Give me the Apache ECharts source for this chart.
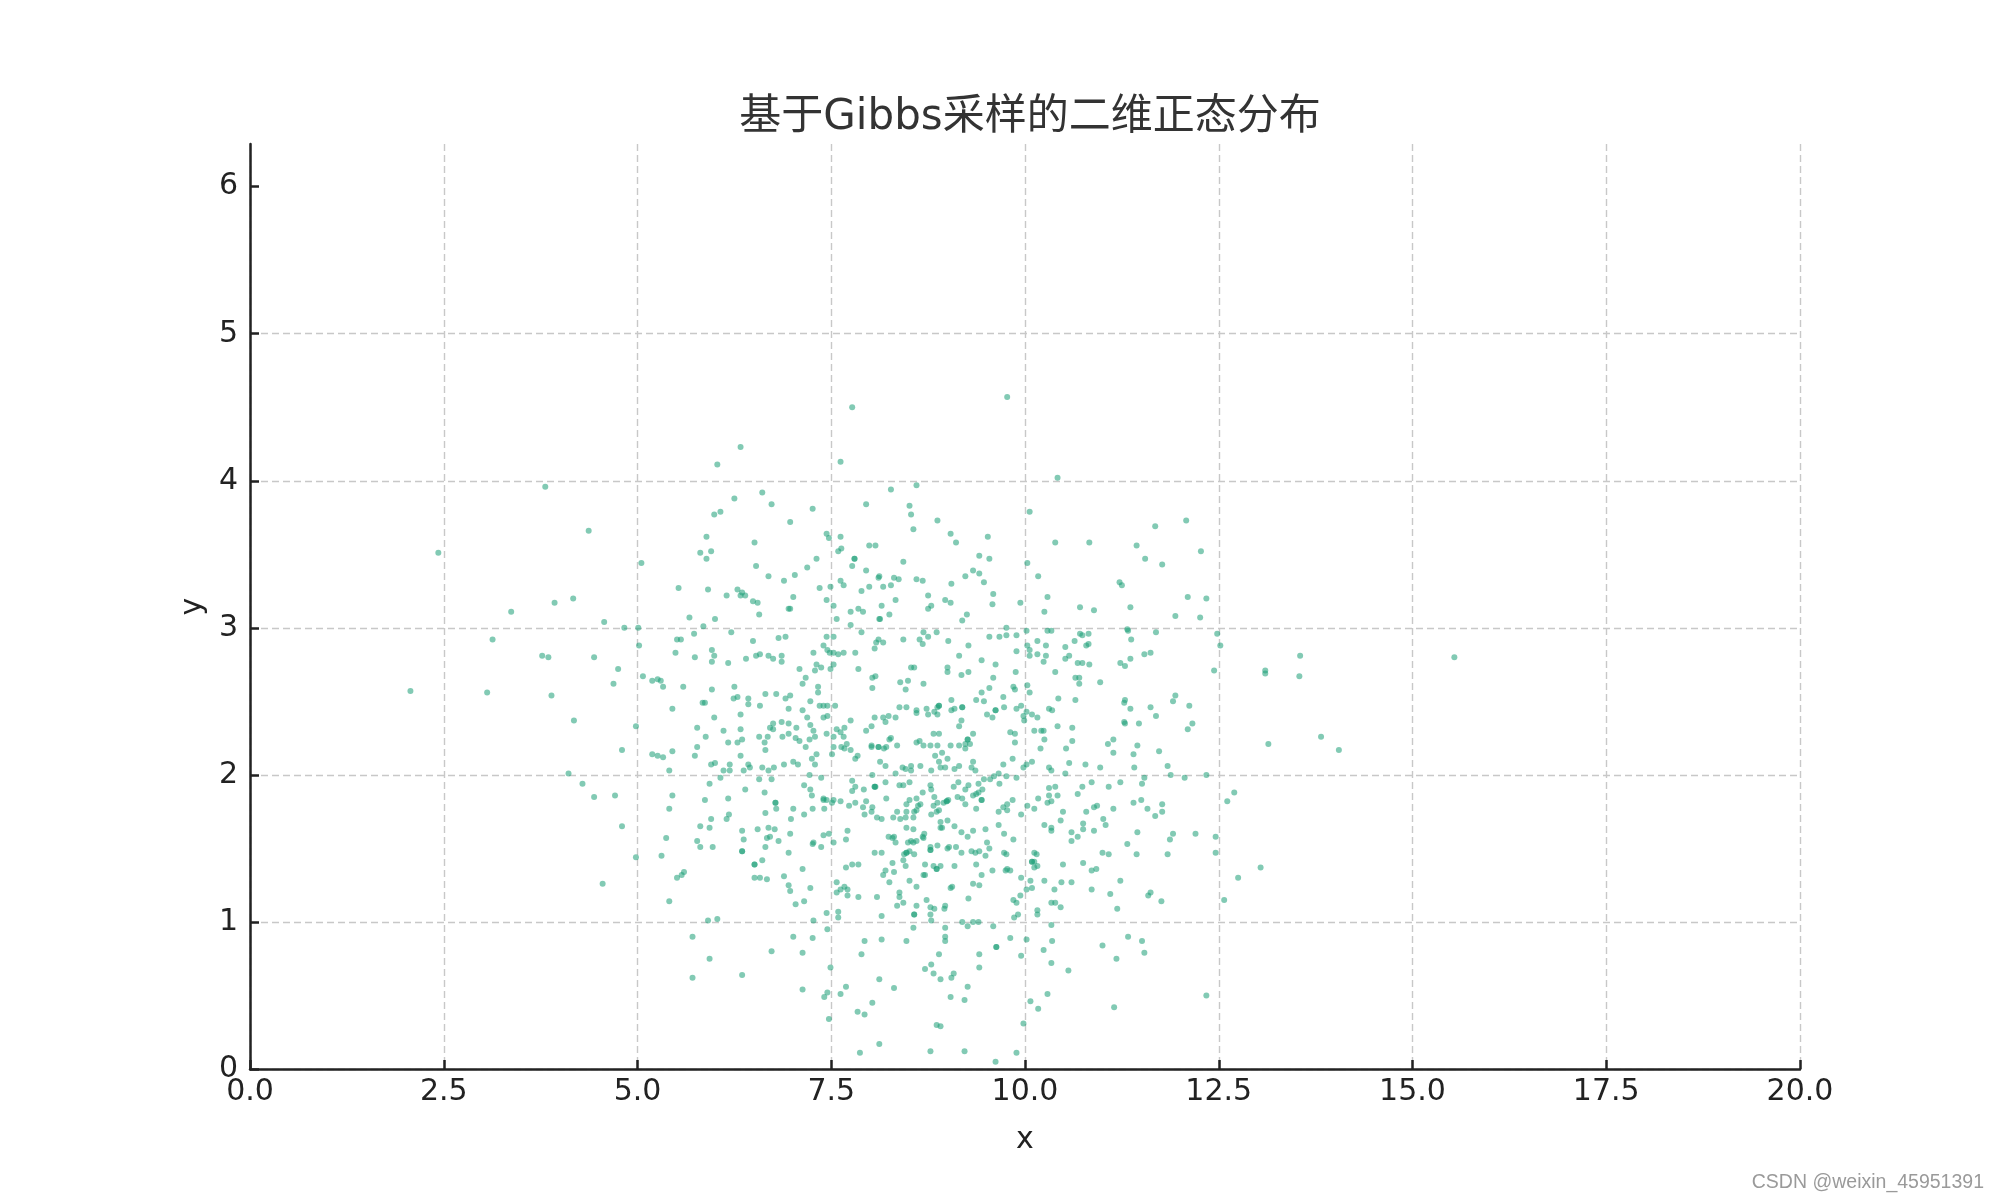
<!DOCTYPE html>
<html>
<head>
<meta charset="utf-8">
<script src="https://cdn.jsdelivr.net/npm/echarts@6/dist/echarts.min.js"></script>
<style>html,body{margin:0;padding:0;background:#fff}#chart{width:2000px;height:1200px}</style>
</head>
<body>
<div id="chart"></div>
<script>
// ---- chart text ----
const titleText = '基于Gibbs采样的二维正态分布';
const xName = 'x';
const yName = 'y';
const watermark = 'CSDN @weixin_45951391';

// ---- axis ticks ----
const xTickValues = [0, 2.5, 5, 7.5, 10, 12.5, 15, 17.5, 20];
const yTickValues = [0, 1, 2, 3, 4, 5, 6];
const yMax = 6.29;

// ---- samples (x, y) ----
const samplesUpperLeft = [
[7.77,4.50],[7.62,4.13],[6.33,4.23],[6.03,4.11],[3.81,3.96],[4.37,3.66],[2.43,3.51],[6.61,3.92],[6.73,3.84],[6.25,3.88],[5.99,3.77],[6.07,3.79],[7.26,3.81],[6.97,3.72],[7.95,3.84],[5.89,3.62],[5.81,3.51],[5.95,3.52],[5.89,3.47],[6.51,3.58],[7.44,3.64],[7.47,3.61],[7.62,3.62],[7.63,3.54],[7.59,3.52],[7.80,3.47],[7.80,3.47],[7.99,3.56],[8.07,3.56],[6.53,3.42],[7.31,3.47],[7.77,3.42],[7.95,3.39],[7.19,3.41],[6.69,3.35],[6.89,3.32],[7.03,3.36],[7.62,3.32],[7.66,3.29],[7.49,3.28],[7.99,3.28],[7.89,3.25],[8.12,3.35],[7.35,3.27],[5.05,3.44],[5.53,3.27],[5.91,3.26],[6.29,3.26],[6.35,3.24],[6.33,3.22],[6.39,3.22],[6.15,3.22],[6.49,3.18],[6.55,3.17],[7.01,3.21],[6.95,3.13],[6.97,3.13],[6.57,3.09],[7.44,3.19],[7.53,3.15],[7.75,3.11],[7.85,3.13],[7.91,3.11],[7.57,3.06],[7.75,3.02],[8.12,3.06],[6.00,3.06],[5.67,3.07],[5.85,3.01],[6.21,2.97],[7.89,2.97],[4.57,3.04],[4.83,3.00],[5.01,3.00],[3.37,3.11],[3.93,3.17],[4.17,3.20],[3.13,2.92],[3.77,2.81],[3.85,2.80],[4.44,2.80],[2.07,2.57],[3.06,2.56],[3.89,2.54],[4.18,2.37],[4.69,2.62],[4.75,2.72],[5.02,2.88],[5.07,2.67],[5.19,2.64],[5.26,2.65],[5.30,2.64],[5.33,2.60],[4.98,2.33],[4.80,2.17],[4.11,2.01],[4.29,1.94],[4.44,1.85],[4.71,1.86],[5.45,2.45],[5.49,2.83],[5.51,2.92],[5.56,2.92],[5.73,2.96],[5.74,2.80],[5.96,2.85],[5.99,2.81],[5.96,2.77],[6.17,2.76],[6.49,2.91],[6.53,2.81],[6.58,2.82],[6.40,2.79],[6.82,2.93],[6.91,2.94],[6.69,2.81],[6.75,2.79],[6.86,2.81],[6.86,2.77],[7.09,2.72],[7.27,2.83],[7.44,2.94],[7.53,2.94],[7.40,2.88],[7.45,2.85],[7.48,2.83],[7.53,2.83],[7.59,2.82],[7.66,2.83],[7.81,2.83],[8.06,2.86],[8.08,2.90],[8.11,2.92],[7.31,2.75],[7.37,2.73],[7.29,2.71],[7.53,2.75],[7.49,2.72],[7.85,2.72],[8.03,2.66],[8.07,2.67],[7.17,2.66],[7.13,2.62],[7.33,2.60],[7.33,2.56],[7.23,2.50],[6.25,2.60],[6.24,2.52],[6.29,2.53],[6.43,2.52],[6.43,2.48],[6.65,2.55],[6.79,2.55],[6.91,2.52],[6.97,2.54],[6.58,2.47],[6.95,2.45],[6.33,2.41],[5.99,2.39],[5.84,2.49],[5.87,2.49],[5.96,2.58],[5.59,2.60],[5.77,2.32],[5.88,2.26],[5.77,2.19],[5.74,2.13],[5.45,2.16],[5.41,2.03],[5.19,2.14],[5.26,2.13],[5.33,2.12],[5.45,1.86],[5.93,1.94],[6.11,2.30],[6.17,2.22],[6.29,2.22],[6.35,2.24],[6.33,2.31],[6.33,2.13],[5.95,2.07],[6.00,2.08],[6.11,2.03],[6.19,2.03],[6.19,2.07],[6.07,1.98],[6.37,2.03],[6.43,2.07],[6.45,2.05],[6.39,1.90],[6.57,1.97],[6.61,2.05],[6.69,2.03],[6.73,1.97],[6.76,2.05],[6.68,2.26],[6.64,2.22],[6.57,2.26],[6.65,2.17],[6.71,2.32],[6.75,2.35],[6.75,2.31],[6.86,2.36],[6.95,2.35],[7.05,2.32],[6.87,2.26],[6.95,2.28],[7.04,2.25],[7.09,2.23],[7.17,2.19],[7.22,2.24],[7.29,2.26],[7.27,2.30],[7.23,2.34],[7.19,2.39],[7.13,2.44],[6.89,2.07],[7.01,2.09],[7.07,2.07],[7.31,2.14],[7.29,2.07],[7.25,2.11],[7.22,2.00],[7.37,1.98],[7.15,1.93],[7.23,1.90],[7.25,1.86],[7.40,1.84],[7.44,2.28],[7.45,2.40],[7.40,2.39],[7.35,2.47],[7.40,2.47],[7.45,2.47],[7.55,2.47],[7.53,2.26],[7.53,2.19],[7.51,2.14],[7.57,2.31],[7.62,2.29],[7.67,2.32],[7.66,2.26],[7.70,2.21],[7.63,2.19],[7.67,2.18],[7.75,2.17],[7.75,2.37],[7.81,2.11],[7.84,2.13],[7.95,2.30],[8.02,2.33],[8.06,2.39],[8.02,2.20],[8.11,2.19],[7.77,1.96],[7.81,1.92],[7.77,1.89],[7.92,1.90],[8.03,2.00],[8.07,1.92],[6.64,1.88],[6.17,1.84],[7.44,1.83],[7.53,1.83]
];
const samplesUpperRight = [
[9.77,4.57],[10.42,4.02],[8.27,3.94],[8.60,3.97],[8.51,3.83],[8.53,3.77],[8.56,3.67],[8.87,3.73],[9.04,3.64],[9.11,3.58],[9.52,3.62],[9.41,3.49],[9.54,3.47],[10.06,3.79],[10.39,3.58],[10.83,3.58],[11.68,3.69],[12.08,3.73],[11.44,3.56],[11.55,3.47],[11.77,3.43],[12.27,3.52],[8.43,3.45],[8.11,3.34],[8.17,3.28],[8.27,3.29],[8.31,3.34],[8.37,3.33],[8.60,3.33],[8.68,3.32],[8.33,3.19],[8.15,3.15],[8.13,3.06],[8.25,3.09],[8.75,3.22],[8.79,3.15],[8.75,3.13],[8.97,3.19],[9.04,3.17],[9.05,3.30],[9.23,3.35],[9.33,3.39],[9.41,3.37],[9.47,3.31],[9.59,3.23],[9.58,3.16],[9.19,3.05],[9.25,3.09],[9.94,3.17],[10.03,3.44],[10.17,3.35],[10.29,3.21],[10.25,3.11],[10.71,3.14],[10.89,3.12],[11.22,3.31],[11.25,3.29],[11.36,3.14],[12.10,3.21],[12.34,3.20],[11.94,3.08],[12.26,3.07],[12.48,2.96],[12.52,2.88],[12.44,2.71],[13.10,2.71],[13.10,2.69],[13.55,2.81],[13.54,2.67],[13.14,2.21],[13.82,2.26],[14.05,2.17],[15.54,2.80],
[11.69,2.97],[11.32,2.99],[11.33,2.98],[11.37,2.92],[11.36,2.79],[11.23,2.76],[11.29,2.74],[11.29,2.51],[11.28,2.49],[11.36,2.45],[11.28,2.36],[11.29,2.35],[11.47,2.35],[11.54,2.82],[11.62,2.83],[11.62,2.46],[11.69,2.40],[11.91,2.50],[11.94,2.54],[12.12,2.47],[12.16,2.35],[12.10,2.31],[11.73,2.16],[11.84,2.06],[11.88,2.00],[12.34,2.00],[12.06,1.98],[11.40,2.14],[11.41,2.05],[11.45,2.20],[11.54,1.98],
[10.71,2.96],[10.74,2.95],[10.82,2.96],[10.79,2.88],[10.82,2.89],[10.83,2.75],[10.74,2.76],[10.68,2.76],[10.65,2.66],[10.70,2.66],[10.70,2.62],[10.97,2.63],[10.65,2.51],[10.64,2.91],[10.52,2.87],[10.52,2.79],[10.57,2.81],[10.39,2.70],[10.43,2.52],[10.31,2.45],[10.35,2.44],[10.27,2.88],[10.27,2.81],[10.24,2.77],[10.16,2.91],[10.16,2.82],[10.06,2.85],[10.03,2.88],[10.06,2.81],[10.02,2.98],[9.89,2.95],[9.89,2.84],[9.88,2.70],[9.76,3.00],[9.76,2.95],[9.67,2.94],[9.54,2.94],[10.34,2.98],[10.29,2.98],
[10.03,2.61],[10.06,2.56],[9.95,2.47],[9.89,2.45],[9.98,2.40],[9.99,2.37],[10.02,2.43],[10.09,2.41],[10.16,2.39],[10.12,2.30],[10.21,2.30],[10.24,2.30],[10.25,2.24],[10.20,2.18],[10.42,2.33],[10.61,2.32],[10.61,2.23],[10.53,2.18],[10.57,2.08],[10.78,2.07],[10.97,2.05],[11.07,2.21],[11.14,2.24],[11.14,2.15],[10.31,2.05],[10.34,2.03],[10.52,2.01],[10.09,2.09],[10.02,2.07],[9.98,2.05],[9.84,2.11],[9.72,2.07],[9.76,1.99],[9.89,1.98],[9.60,1.99],[9.55,1.97],[9.47,1.97]
];
const samplesCentre = [
[9.01,2.91],[9.15,2.81],[9.27,2.88],[9.44,2.78],[9.62,2.75],[9.59,2.66],[9.51,2.41],[9.58,2.39],[9.54,2.59],[9.44,2.56],[9.47,2.50],[9.37,2.51],[9.27,2.70],[9.18,2.68],[9.05,2.51],[9.09,2.45],[9.00,2.73],[9.00,2.70],[8.57,2.73],[8.53,2.73],[8.03,2.59],[8.39,2.63],[8.49,2.64],[8.46,2.58],[8.69,2.62],[8.38,2.46],[8.47,2.46],[8.60,2.44],[8.60,2.42],[8.73,2.45],[8.83,2.43],[8.75,2.41],[8.87,2.46],[8.89,2.47],[8.89,2.47],[8.87,2.41],[9.05,2.44],[9.19,2.46],[9.19,2.46],[9.18,2.37],[9.15,2.33],[9.26,2.24],[9.26,2.24],[9.23,2.21],[9.23,2.18],[9.29,2.21],[9.33,2.28],[9.15,2.20],[9.04,2.20],[9.00,2.11],[8.97,2.05],[8.89,2.09],[8.91,2.05],[8.78,2.20],[8.87,2.20],[8.82,2.28],[8.89,2.28],[8.79,2.03],[8.65,2.06],[8.53,2.06],[8.53,2.03],[8.42,2.05],[8.46,2.04],[8.33,2.01],[8.20,2.06],[8.13,2.09],[8.18,2.18],[8.11,2.19],[8.02,2.19],[8.17,2.39],[8.20,2.36],[8.24,2.40],[8.33,2.39],[8.35,2.20],[8.25,2.24],[8.27,2.25],[8.21,2.19],[8.64,2.23],[8.60,2.22],[9.72,2.53],[9.73,2.46],[9.62,2.44],[9.62,2.44],[9.85,2.60],[9.87,2.58],[9.81,2.29],[9.87,2.28],[9.87,2.22],[9.66,2.01],[9.36,2.03],[9.31,2.05],[9.33,2.09],[9.15,2.06],[9.09,2.04],[8.84,2.13],[8.93,2.15],[8.69,2.20],
[8.17,2.90],[8.43,2.92],[8.69,2.97],[8.75,2.94],[8.86,2.97],[8.64,2.92],[8.68,2.89]
];
const samplesLowerLeft = [
[4.80,1.65],[4.55,1.26],[4.98,1.44],[5.31,1.45],[5.37,1.57],[5.41,1.77],[5.51,1.30],[5.57,1.32],[5.60,1.34],[5.41,1.14],[5.71,0.90],[5.71,0.62],[5.93,0.75],[5.91,1.01],[6.03,1.02],[5.77,1.55],[5.81,1.51],[5.97,1.51],[5.81,1.65],[5.93,1.64],[5.95,1.70],[5.87,1.83],[6.18,1.73],[6.15,1.70],[6.35,1.62],[6.37,1.56],[6.35,1.48],[6.35,1.48],[6.51,1.39],[6.51,1.39],[6.61,1.42],[6.51,1.30],[6.58,1.30],[6.67,1.29],[6.55,1.63],[6.69,1.64],[6.77,1.63],[6.67,1.57],[6.71,1.58],[6.65,1.51],[6.82,1.55],[6.65,1.74],[6.78,1.81],[6.78,1.81],[6.79,1.77],[6.95,1.47],[6.89,1.31],[6.95,1.25],[6.97,1.21],[7.04,1.12],[7.13,1.36],[7.15,1.14],[7.23,1.23],[6.97,1.60],[6.98,1.70],[7.01,1.77],[7.15,1.73],[7.26,1.77],[7.26,1.53],[7.27,1.54],[7.37,1.51],[7.40,1.59],[7.41,1.77],[7.40,1.83],[7.47,1.60],[7.53,1.54],
[7.01,0.90],[7.26,0.89],[7.13,0.79],[6.73,0.80],[6.35,0.64],[7.13,0.54],[7.27,1.01],[7.44,1.06],[7.45,0.95],[7.59,1.07],[7.59,1.03],[7.49,0.69],[7.45,0.52],[7.41,0.49],[7.62,0.51],[7.69,0.56],[7.47,0.34],[7.84,0.39],[7.93,0.37],[7.87,0.11],[8.03,0.45],[8.12,0.61],[8.12,0.17],[7.89,0.78],[7.93,0.87],[7.85,1.17],[8.09,1.17],[7.57,1.27],[7.57,1.20],[7.62,1.22],[7.67,1.24],[7.71,1.22],[7.71,1.18],[7.69,1.37],[7.77,1.39],[7.85,1.39],[8.06,1.47],[7.69,1.56],[7.71,1.62],[7.73,1.79],[7.81,1.81],[7.91,1.78],[7.93,1.73],[8.02,1.75],[8.03,1.78],[8.09,1.71],[7.95,1.82],[8.06,1.92],[8.06,1.92],[7.62,1.82],[7.51,1.81]
];
const samplesLowerRight = [
[12.70,1.88],[12.61,1.82],[13.04,1.37],[12.75,1.30],[12.57,1.15],[12.34,0.50],[12.46,1.58],[12.46,1.47],[12.20,1.60],[11.91,1.60],[11.87,1.56],[11.84,1.46],[11.77,1.80],[11.77,1.75],[11.68,1.72],[11.58,1.77],[11.50,1.83],[11.40,1.81],[11.51,1.94],
[11.45,1.61],[11.32,1.53],[11.44,1.46],[11.23,1.28],[11.59,1.18],[11.62,1.20],[11.76,1.14],[11.33,0.90],[11.51,0.87],[11.54,0.79],[11.00,0.84],[11.18,0.75],[11.15,0.42],[10.56,0.67],[10.34,0.72],[10.24,0.81],[10.35,0.87],[10.02,0.88],[10.34,0.98],[10.29,0.51],[10.07,0.46],[10.17,0.41],[9.98,0.31],[9.89,0.11],[9.62,0.05],[9.22,0.12],[8.78,0.12],[8.31,0.55],[8.15,0.88],[8.47,0.87],[8.56,0.96],[8.97,0.96],[8.97,0.90],[8.97,0.87],[8.89,0.78],[8.71,0.68],[8.79,0.71],[8.82,0.65],[8.91,0.61],[9.05,0.62],[9.08,0.65],[9.04,0.49],[9.22,0.47],[9.26,0.56],[8.86,0.30],[8.91,0.29],[9.41,0.78],[9.41,0.69],[9.59,0.97],[9.63,0.83],[9.63,0.83],[9.81,0.89],[9.95,0.77],[8.57,1.05],[8.57,1.05],[8.78,1.05],[8.79,1.01],[9.19,1.00],[9.26,0.97],[9.33,1.00],[9.40,1.00],[8.15,1.04],[8.78,1.10],[8.83,1.09],[8.96,1.09],[8.97,1.11],[8.60,1.11],[8.73,1.15],[8.43,1.13],[8.35,1.11],[8.38,1.20],[8.38,1.17],[9.27,1.16],[9.58,1.35],[9.44,1.32],[9.33,1.26],[9.41,1.25],[9.06,1.24],[9.04,1.23],[9.09,1.38],[8.91,1.38],[8.86,1.36],[8.86,1.36],[8.82,1.38],[8.71,1.39],[8.71,1.32],[8.69,1.32],[8.60,1.24],[8.51,1.28],[8.46,1.38],[8.43,1.42],[8.31,1.34],[8.29,1.40],[8.20,1.35],[8.17,1.32],[8.25,1.27],[8.15,1.47],[8.44,1.46],[8.47,1.47],[8.47,1.47],[8.51,1.48],[8.57,1.46],[8.49,1.54],[8.56,1.54],[8.53,1.55],[8.60,1.55],[8.68,1.58],[8.70,1.60],[8.56,1.63],[8.47,1.64],[8.33,1.54],[8.31,1.58],[8.24,1.58],[8.29,1.57],[8.15,1.70],[8.30,1.71],[8.35,1.75],[8.39,1.70],[8.46,1.71],[8.47,1.75],[8.56,1.71],[8.57,1.75],[8.60,1.76],[8.62,1.79],[8.65,1.80],[8.60,1.84],[8.51,1.83],[8.47,1.80],[8.21,1.84],[8.20,1.95],[8.38,1.93],[8.43,1.93],[8.51,1.95],[8.68,1.88],[8.79,1.90],[8.78,1.93],[8.83,1.85],[8.82,1.79],[8.87,1.81],[8.86,1.75],[8.89,1.76],[8.95,1.81],[8.99,1.82],[8.99,1.82],[9.01,1.83],[8.79,1.73],[8.91,1.68],[8.91,1.64],[8.93,1.64],[9.00,1.69],[9.09,1.65],[9.18,1.61],[9.26,1.58],[9.33,1.62],[9.49,1.63],[9.51,1.54],[9.54,1.50],[9.49,1.45],[9.41,1.48],[9.36,1.47],[9.37,1.39],[9.31,1.48],[9.18,1.47],[9.11,1.51],[9.02,1.51],[9.00,1.50],[8.87,1.52],[8.78,1.51],[8.78,1.49],[8.78,1.49],[8.69,1.57],[9.08,1.92],[9.14,1.95],[9.13,1.85],[9.19,1.84],[9.23,1.90],[9.27,1.93],[9.23,1.80],[9.33,1.86],[9.37,1.87],[9.40,1.94],[9.40,1.88],[9.45,1.90],[9.44,1.83],[9.44,1.83],[9.37,1.77],[9.67,1.94],[9.66,1.75],[9.72,1.78],[9.77,1.80],[9.77,1.76],[9.84,1.83],[9.66,1.66],[9.73,1.60],[9.85,1.56],[9.73,1.47],[9.76,1.46],[9.75,1.35],[9.77,1.36],[9.81,1.35],[10.03,1.79],[10.12,1.77],[10.17,1.84],[10.29,1.81],[10.34,1.82],[10.31,1.86],[10.42,1.86],[10.31,1.91],[10.39,1.92],[9.95,1.73],[10.25,1.66],[10.34,1.64],[10.34,1.62],[10.46,1.69],[10.49,1.75],[10.60,1.61],[10.60,1.55],[10.68,1.58],[10.68,1.87],[10.74,1.92],[10.75,1.67],[10.75,1.63],[10.79,1.75],[10.89,1.62],[10.89,1.78],[10.93,1.79],[10.86,1.95],[11.01,1.70],[11.04,1.66],[11.08,1.92],[11.14,1.77],[11.23,1.95],[11.00,1.47],[11.08,1.46],[10.86,1.35],[10.92,1.36],[10.75,1.40],[10.49,1.39],[10.25,1.28],[10.47,1.27],[10.60,1.27],[10.38,1.22],[10.09,1.23],[10.07,1.28],[10.02,1.22],[9.95,1.30],[9.94,1.18],[9.85,1.15],[9.89,1.13],[9.86,1.03],[9.91,1.05],[10.16,1.08],[10.16,1.05],[10.34,1.13],[10.39,1.13],[10.46,1.10],[10.86,1.22],[11.10,1.19],[11.19,1.09],[10.12,1.47],[10.15,1.46],[10.09,1.41],[10.09,1.41],[10.12,1.41],[10.16,1.38],[10.12,1.37]
];

const allSamples = [].concat(samplesUpperLeft, samplesUpperRight, samplesCentre, samplesLowerLeft, samplesLowerRight);

const FONT = '"DejaVu Sans", "Noto Sans CJK SC", sans-serif';
const chart = echarts.init(document.getElementById('chart'), null, {renderer: 'canvas'});
chart.setOption({
  animation: false,
  backgroundColor: '#ffffff',
  title: {
    text: titleText,
    left: 1025,
    top: 92,
    textAlign: 'center',
    textStyle: {fontFamily: FONT, fontSize: 42, fontWeight: 'normal', color: '#333333'}
  },
  grid: {left: 250, right: 200, top: 144, bottom: 131, containLabel: false},
  xAxis: {
    type: 'value', min: 0, max: 20, interval: 2.5,
    name: xName, nameLocation: 'middle', nameGap: 56,
    nameTextStyle: {fontFamily: FONT, fontSize: 30, color: '#222222'},
    axisLine: {show: true, onZero: false, lineStyle: {color: '#222222', width: 2.5}},
    axisTick: {show: true, inside: true, length: 9, lineStyle: {color: '#222222', width: 2.5}},
    axisLabel: {
      fontFamily: FONT, fontSize: 30, color: '#222222', margin: 8,
      customValues: xTickValues,
      formatter: v => Number(v).toFixed(1)
    },
    splitLine: {show: true, lineStyle: {color: '#c8c8c8', width: 1.4, type: [7, 4]}}
  },
  yAxis: {
    type: 'value', min: 0, max: yMax, interval: 1,
    name: yName, nameLocation: 'middle', nameGap: 42,
    nameTextStyle: {fontFamily: FONT, fontSize: 30, color: '#222222'},
    axisLine: {show: true, onZero: false, lineStyle: {color: '#222222', width: 2.5}},
    axisTick: {show: true, inside: true, length: 9, customValues: yTickValues, lineStyle: {color: '#222222', width: 2.5}},
    axisLabel: {
      fontFamily: FONT, fontSize: 30, color: '#222222', margin: 12,
      customValues: yTickValues,
      formatter: v => (Math.abs(v - Math.round(v)) < 1e-9 ? String(Math.round(v)) : '')
    },
    splitLine: {show: true, showMaxLine: false, lineStyle: {color: '#c8c8c8', width: 1.4, type: [7, 4]}}
  },
  series: [{
    type: 'scatter',
    data: allSamples,
    symbol: 'circle',
    symbolSize: 6,
    itemStyle: {color: '#1b9e77', opacity: 0.55},
    emphasis: {disabled: true}
  }],
  graphic: [{
    type: 'text',
    right: 16,
    top: 1173,
    style: {text: watermark, font: '19.5px "Liberation Sans", Arial, sans-serif', fill: '#9a9a9a'}
  }]
});
</script>
</body>
</html>
